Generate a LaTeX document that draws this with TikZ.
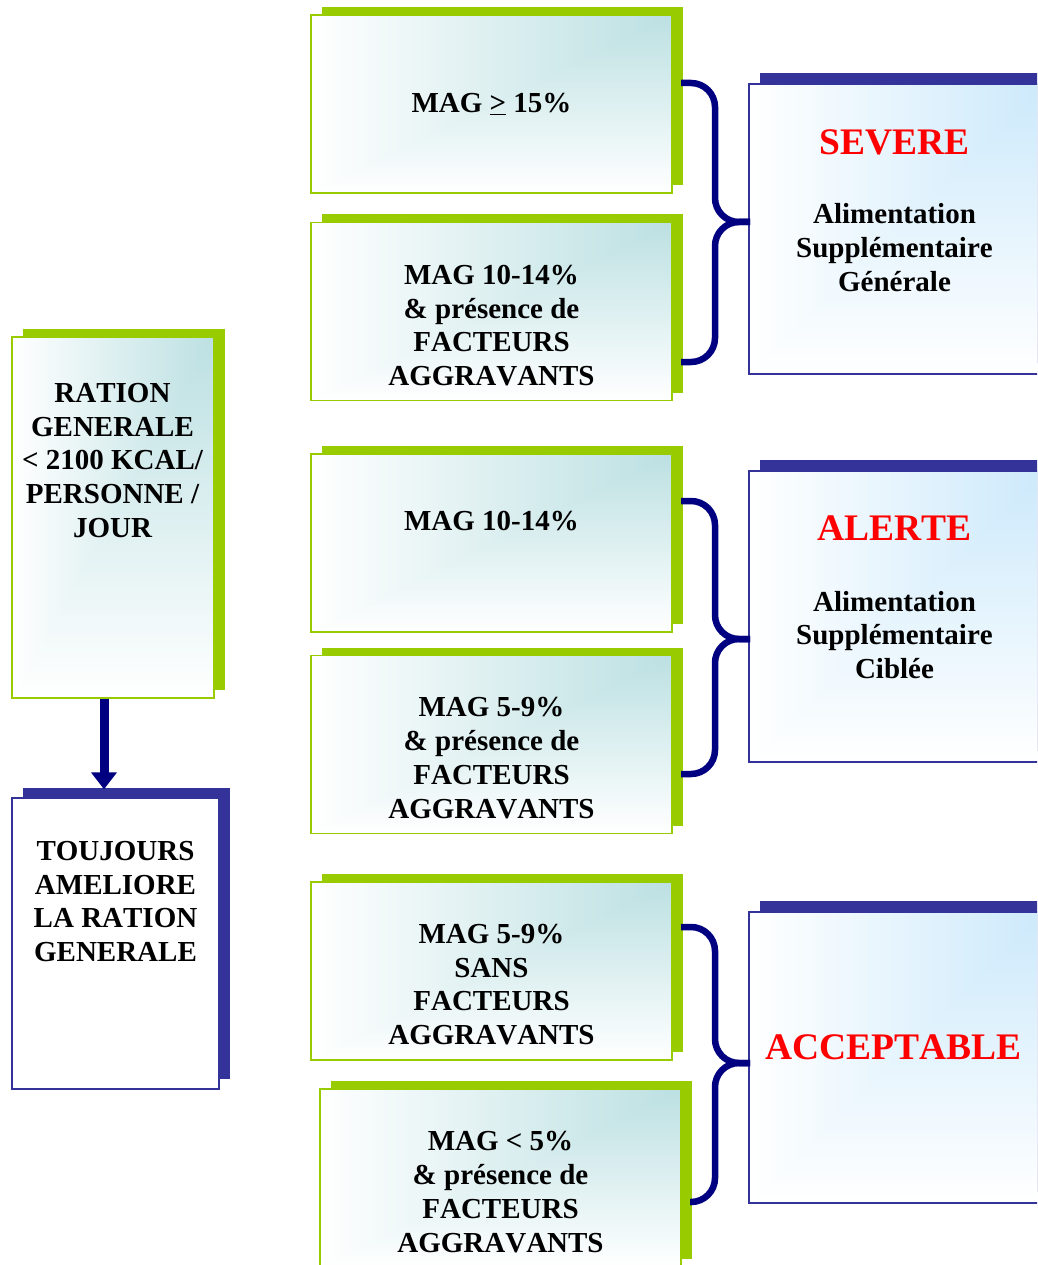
\documentclass[tikz,border=0pt]{standalone}
\usepackage{fontspec}
\setmainfont{Liberation Serif}[Kerning=Off]
\usetikzlibrary{shadows,arrows.meta,calc}

\definecolor{lime}{HTML}{99CC00}
\definecolor{slate}{HTML}{333399}
\definecolor{navybr}{HTML}{000080}
\definecolor{alertred}{HTML}{FF0000}

% corner gradients: strongest tint in the top-right corner, white towards the lower-left
\pgfdeclarefunctionalshading{tealcorner}{\pgfpoint{0bp}{0bp}}{\pgfpoint{100bp}{100bp}}{}{
 75 exch sub 50 div exch 75 exch sub 50 div
 2 copy gt {pop} {exch pop} ifelse
 dup 0 lt {pop 0} if dup 1 gt {pop 1} if
 1 exch sub
 dup 0.263 mul 1 exch sub
 exch dup 0.122 mul 1 exch sub
 exch 0.114 mul 1 exch sub
}
\pgfdeclarefunctionalshading{bluecorner}{\pgfpoint{0bp}{0bp}}{\pgfpoint{100bp}{100bp}}{}{
 75 exch sub 50 div exch 75 exch sub 50 div
 2 copy gt {pop} {exch pop} ifelse
 dup 0 lt {pop 0} if dup 1 gt {pop 1} if
 1 exch sub
 dup 0.20 mul 1 exch sub
 exch dup 0.086 mul 1 exch sub
 exch 0.016 mul 1 exch sub
}

\begin{document}
\begin{tikzpicture}[x=1pt, y=-1pt,
  txt/.style={font=\fontsize{29}{33.8}\selectfont\bfseries, align=center, inner sep=0pt},
  ttl/.style={font=\fontsize{37.5}{40}\selectfont\bfseries, text=alertred, inner sep=0pt},
  mbox/.style={draw=lime, line width=1.2pt, shade, shading=tealcorner, inner sep=0pt,
    minimum width=361pt, minimum height=178pt,
    general shadow={fill=lime, shadow xshift=11pt, shadow yshift=8pt}},
  gbox/.style={draw=lime, line width=1.2pt, shade, shading=tealcorner, inner sep=0pt,
    general shadow={fill=lime, shadow xshift=11pt, shadow yshift=8pt}},
  wbox/.style={draw=slate, line width=1.4pt, fill=white, inner sep=0pt,
    general shadow={fill=slate, shadow xshift=11pt, shadow yshift=10pt}},
  rbox/.style={draw=slate, line width=1.4pt, shade, shading=bluecorner, inner sep=0pt,
    minimum width=298pt, minimum height=290pt,
    general shadow={fill=slate, shadow xshift=11pt, shadow yshift=11pt}},
  brace/.style={draw=navybr, line width=6.5pt, rounded corners=24pt},
  arr/.style={draw=navybr, line width=9pt, -{Triangle[width=25pt,length=17pt]}}
]
\useasboundingbox (0,0) rectangle (1037,1265);
\clip (0,0) rectangle (1037,1265);

% left column
\node[gbox, minimum width=202pt, minimum height=361pt] (ration) at (113,517.5) {};
\node[txt] (rationtxt) at (112.5,460.5) {RATION\\GENERALE\\< 2100 KCAL/\\PERSONNE /\\JOUR};
\node[wbox, minimum width=207pt, minimum height=291pt] (toujours) at (115.5,943.5) {};
\node[txt] (toujourstxt) at (115.5,901.5) {TOUJOURS\\AMELIORE\\LA RATION\\GENERALE};
\draw[arr] ($(ration.south)+(-9,0)$) -- ($(toujours.north)+(-11.5,-8)$);

% middle column: MAG thresholds
\node[mbox] (bA) at (491.5,104) {};
\node[txt] (tA) at (491.5,104) {MAG \underline{>} 15\%};
\node[mbox] (bB) at (491.5,311.5) {};
\node[txt] (tB) at (491.5,325.5) {MAG 10-14\%\\\& présence de\\FACTEURS\\AGGRAVANTS};
\node[mbox] (bC) at (491.5,543) {};
\node[txt] (tC) at (491.5,521) {MAG 10-14\%};
\node[mbox] (bD) at (491.5,744.5) {};
\node[txt] (tD) at (491.5,758) {MAG 5-9\%\\\& présence de\\FACTEURS\\AGGRAVANTS};
\node[mbox] (bE) at (491.5,971) {};
\node[txt] (tE) at (491.5,984.5) {MAG 5-9\%\\SANS\\FACTEURS\\AGGRAVANTS};
\node[mbox] (bF) at (500.5,1178) {};
\node[txt] (tF) at (500.5,1192) {MAG < 5\%\\\& présence de\\FACTEURS\\AGGRAVANTS};

% right column: situations
\node[rbox] (sev) at (898,229) {};
\node[ttl] (sevttl) at (894.5,142) {SEVERE};
\node[txt] (sevtxt) at (894.5,247.5) {Alimentation\\Supplémentaire\\Générale};
\node[rbox, minimum height=291pt] (ale) at (898,616.5) {};
\node[ttl] (alettl) at (894.5,528) {ALERTE};
\node[txt] (aletxt) at (894.5,635) {Alimentation\\Supplémentaire\\Ciblée};
\node[rbox, minimum height=291pt] (acc) at (898,1057.5) {};
\node[ttl] (accttl) at (893.5,1047) {ACCEPTABLE};

% braces grouping two conditions into one situation
\coordinate (k1t) at (681,83);   \coordinate (k1m) at (750,222);  \coordinate (k1b) at (681,362);
\coordinate (k2t) at (681,501);  \coordinate (k2m) at (750,639);  \coordinate (k2b) at (681,774);
\coordinate (k3t) at (681,927);  \coordinate (k3m) at (750,1063); \coordinate (k3b) at (690,1202);
\foreach \k in {k1,k2,k3}{
  \draw[brace] (\k t) -| ($(\k m)+(-35,0)$) -- (\k m);
  \draw[brace] (\k m) -- ++(-35,0) |- (\k b);
}
\end{tikzpicture}
\end{document}
